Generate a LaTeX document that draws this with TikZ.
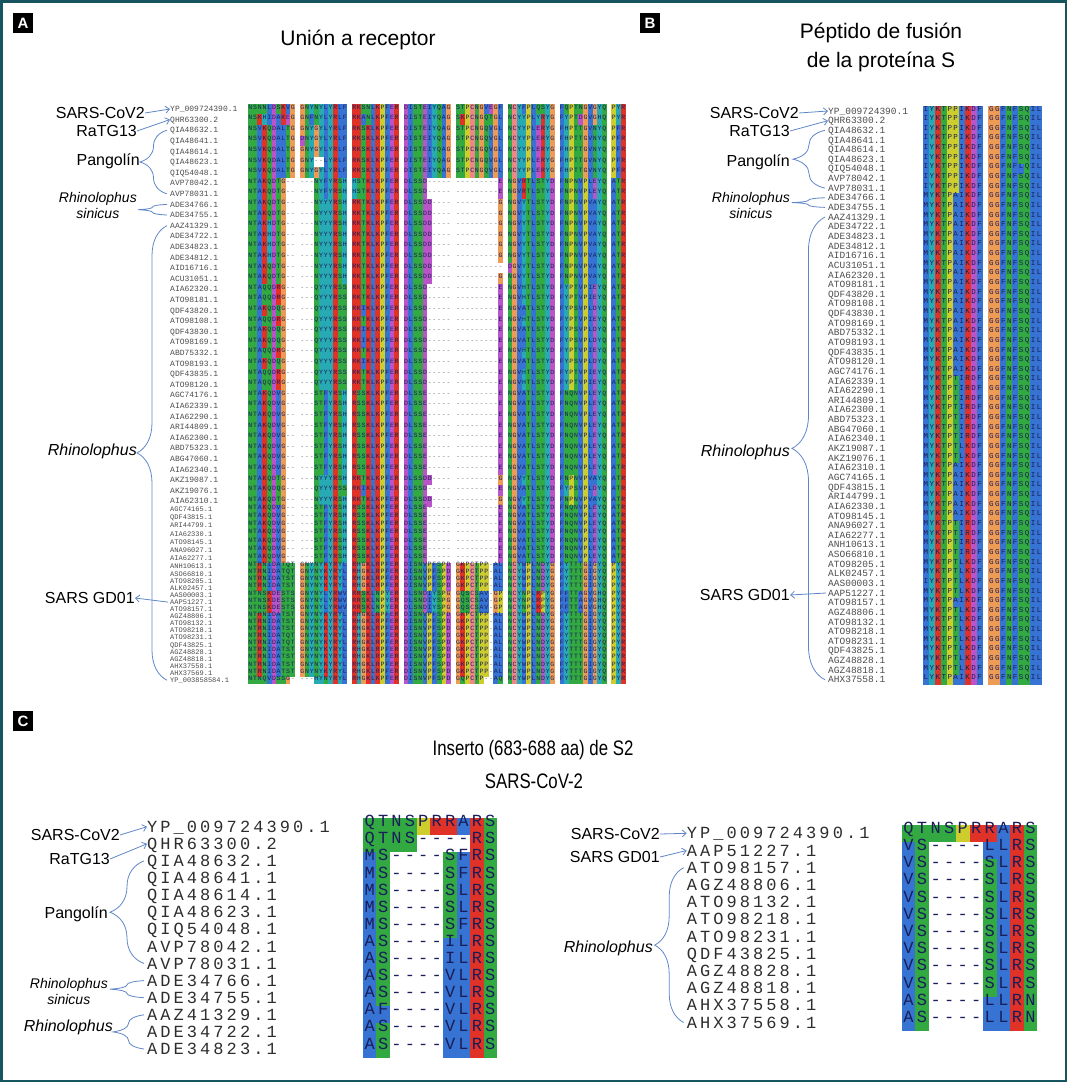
\documentclass[tikz,border=0pt]{standalone}
\usepackage{fontspec}
\usepackage{graphicx}
\usepackage{xcolor}
\usetikzlibrary{arrows.meta,decorations.pathreplacing}
\setmainfont{Liberation Sans}
\newfontfamily\monofam{Liberation Mono}
\newfontfamily\monowide[LetterSpace=18]{Liberation Mono}

\definecolor{frameTeal}{RGB}{22,84,96}
\definecolor{linkBlue}{RGB}{95,135,200}
\definecolor{aaBlue}{RGB}{55,115,210}
\definecolor{aaRed}{RGB}{225,50,40}
\definecolor{aaGreen}{RGB}{50,170,65}
\definecolor{aaMagenta}{RGB}{185,85,200}
\definecolor{aaOrange}{RGB}{238,155,85}
\definecolor{aaYellow}{RGB}{205,205,45}
\definecolor{aaCyan}{RGB}{40,170,180}
\definecolor{aaPink}{RGB}{240,135,135}
\definecolor{resText}{RGB}{25,30,90}
\definecolor{accGray}{RGB}{75,75,75}
\definecolor{accDark}{RGB}{45,45,45}
\definecolor{gapGray}{RGB}{120,120,120}

\tikzset{
  acc/.style={anchor=west, inner sep=0, text=accGray},
  accC/.style={anchor=west, inner sep=0, text=accDark, font=\monowide\fontsize{17}{18}\selectfont},
  seq/.style={anchor=base west, inner sep=0, outer sep=0},
  tag/.style={anchor=east, inner sep=0, font=\fontsize{16}{18}\selectfont},
  tagit/.style={anchor=east, inner sep=0, align=center, font=\itshape\fontsize{14}{16}\selectfont},
  tagrh/.style={anchor=east, inner sep=0, font=\itshape\fontsize{16}{18}\selectfont},
  ttl/.style={align=center, inner sep=0, font=\fontsize{21}{29}\selectfont},
  plbl/.style={fill=black, text=white, inner sep=0, minimum width=20, minimum height=20, font=\bfseries\fontsize{15}{15}\selectfont},
  lnk/.style={draw=linkBlue, line width=0.8, -{Straight Barb[length=4pt,width=7pt]}},
  brc/.style={draw=linkBlue, line width=0.8, decorate, decoration={brace, amplitude=#1}}
}

% residue cells, set as plain boxes inside one node per row; '.' = block gap
\newdimen\cellw \newdimen\cellh \newdimen\cellhh \newdimen\capoff
\def\gapcol{gapGray}
\def\setaa#1#2{\expandafter\def\csname aac#1\endcsname{#2}}
\setaa A{aaBlue}\setaa I{aaBlue}\setaa L{aaBlue}\setaa M{aaBlue}\setaa F{aaBlue}\setaa W{aaBlue}\setaa V{aaBlue}
\setaa K{aaRed}\setaa R{aaRed}
\setaa D{aaMagenta}\setaa E{aaMagenta}
\setaa N{aaGreen}\setaa Q{aaGreen}\setaa S{aaGreen}\setaa T{aaGreen}
\setaa G{aaOrange}\setaa P{aaYellow}\setaa H{aaCyan}\setaa Y{aaCyan}\setaa C{aaPink}
\def\seqcell#1{%
  \if#1.\kern\cellw\else
    \ifcsname aac#1\endcsname
      \rlap{\color{\csname aac#1\endcsname}\rule[-\cellhh]{\cellw}{\cellh}}%
    \fi
    \hbox to\cellw{\hss\lower\capoff\hbox{\if#1-\color{\gapcol}\else\color{resText}\fi#1}\hss}%
  \fi}
\def\seqrun#1{\ifx\relax#1\else\seqcell#1\expandafter\seqrun\fi}
\newcommand\setcells[2]{\cellw=#1pt\relax\cellh=#2pt\relax\cellhh=0.5\cellh
  \setbox0\hbox{\resfont X}\capoff=0.5\ht0\relax}
\newcommand\acctext[1]{\vphantom{X}\smash{#1}}

\newcommand\rowA[3]{%
  \pgfmathsetmacro\alny{#1<38.5 ? 109+(#1-1)*10.6 : (#1<46.5 ? 501+(#1-38)*8.2 : 566.6+(#1-46)*7.1)}%
  \pgfmathsetmacro\alnh{#1<38.5 ? 10.6 : (#1<46.5 ? 8.2 : 7.1)}%
  \ifnum#1<39 \def\accfont{\monofam\fontsize{8}{9}\selectfont}\else\def\accfont{\monofam\fontsize{7}{8}\selectfont}\fi
  \node[acc,font=\accfont] (a#1) at (170,\alny) {\acctext{#2}};
  \def\resfont{\monofam\fontsize{6.5}{7}\selectfont}\setcells{4.72}{\alnh}%
  \node[seq,font=\resfont] (sa#1) at (248,\alny) {\expandafter\seqrun#3\relax};}
\newcommand\rowB[3]{%
  \pgfmathsetmacro\alny{111+(#1-1)*9.64}%
  \node[acc,font=\monofam\fontsize{9.5}{10}\selectfont] (b#1) at (828,\alny) {\acctext{#2}};
  \def\resfont{\monofam\fontsize{7.5}{8}\selectfont}\setcells{5.95}{9.64}%
  \node[seq,font=\resfont] (sb#1) at (923,\alny) {\expandafter\seqrun#3\relax};}
\newcommand\rowCL[3]{%
  \pgfmathsetmacro\alny{826.7+(#1-1)*17.1}%
  \node[accC] (c#1) at (147,\alny) {\acctext{#2}};
  \def\resfont{\monofam\fontsize{17}{18}\selectfont}\setcells{13.4}{17.1}%
  \node[seq,font=\resfont] (sc#1) at (363,\alny) {\expandafter\seqrun#3\relax};}
\newcommand\rowCR[3]{%
  \pgfmathsetmacro\alny{833.3+(#1-1)*17.2}%
  \node[accC] (d#1) at (686.7,\alny) {\acctext{#2}};
  \def\resfont{\monofam\fontsize{17}{18}\selectfont}\setcells{13.56}{17.2}%
  \node[seq,font=\resfont] (sd#1) at (901.7,\alny) {\expandafter\seqrun#3\relax};}

% receptor binding region
\def\sqCoV{NSNNLDSKVG.GNYNYLYRLF.RKSNLKPFER.DISTEIYQAG.STPCNGVEGF.NCYFPLQSYG.FQPTNGVGYQ.PYR}
\def\sqRaT{NSKHIDAKEG.GNFNYLYRLF.RKANLKPFER.DISTEIYQAG.SKPCNGQTGL.NCYYPLYRYG.FYPTDGVGHQ.PYR}
\def\sqPan{NSVKQDALTG.GNYGYLYRLF.RKSKLKPFER.DISTEIYQAG.STPCNGQVGL.NCYYPLERYG.FHPTTGVNYQ.PFR}
\def\sqPanb{NSVKQDALTG.DNYGYLYRLF.RKSKLKPFER.DISTEIYQAG.STPCNGQVGL.NCYYPLERYG.FHPTTGVNYQ.PFR}
\def\sqPanc{NSVKQDALTG.GNY--LYRLF.RKSKLKPFER.DISTEIYQAG.STPCNGQVGL.NCYYPLERYG.FHPTTGVNYQ.PFR}
\def\sqZC{NTAKQDTG--.---NYFYRSH.HSTKLKPFER.DLSSD-----.---------E.NGVRTLSTYD.FNPNVPLEYQ.ATR}
\def\sqRs{NTAKQDTG--.---NYYYRSH.RKTKLKPFER.DLSSDD----.---------G.NGVYTLSTYD.FNPNVPVAYQ.ATR}
\def\sqRsb{NTAKHDTG--.---NYYYRSH.RKTKLKPFER.DLSSDD----.---------G.NGVYTLSTYD.FNPNVPVAYQ.ATR}
\def\sqRsc{NTAKQDTG--.---NYYYRSH.RKTKLKPFER.DLSSDD----.----------.DGVYTLSTYD.FNPNVPVAYQ.ATR}
\def\sqQ{NTAQQDRG--.---QYYYRSS.RKTKLKPFER.DLSSD-----.---------E.NGVHTLSTYD.FYPTVPIEYQ.ATR}
\def\sqQb{NTAKQDQG--.---QYYYRSS.RKIKLKPFER.DLSSD-----.---------E.NGVATLSTYD.FYPSVPLDYQ.ATR}
\def\sqS{NTAKQDVG--.---STFYRSH.RSSKLKPFER.DLSSE-----.---------E.NGVATLSTYD.FNQNVPLEYQ.ATR}
\def\sqSARS{NTRNIDATST.GNYNYKYRYL.RHGKLRPFER.DISNVPFSPD.GKPCTPP-AL.NCYWPLNDYG.FYTTTGIGYQ.PYR}
\def\sqSARSb{NTRNIDATQT.GNYNYKYRYL.RHGKLRPFER.DISNVPFSPD.GKPCTPP-AL.NCYWPLNDYG.FYTTTGIGYQ.PYR}
\def\sqWIV{NTNSKDESTS.GNYNYLYRWV.RRSKLNPYER.DLSNDIYSPG.GQSCSAV-GP.NCYNPLRPYG.FFTTAGVGHQ.PYR}
\def\sqBM{NTNQVDSSG-.---HYNYRYL.RHGKLKPFER.DISNVPFSPD.GQPCTP--AQ.NCYWPLNDYG.FYTTTGIGYQ.PYR}
% fusion peptide
\def\sqBa{IYKTPPIKDF.GGFNFSQIL}
\def\sqBb{IYKTPPIKDF.GGFNFLQIL}
\def\sqBc{MYKTPAIKDF.GGFNFSQIL}
\def\sqBd{MYKTPTIRDF.GGFNFSQIL}
\def\sqBe{MYKTPTLKDF.GGFNFSQIL}
\def\sqBf{IYKTPTLKDF.GGFNFSQIL}
\def\sqBg{LYKTPAIKDF.GGFNFSQIL}

\begin{document}
\begin{tikzpicture}[x=1pt,y=-1pt]
\useasboundingbox (0,0) rectangle (1067,1082);
\draw[frameTeal, line width=2.5] (1.25,1.25) rectangle (1065.75,1080.75);

% panel A
\node[plbl] (pA) at (23,23) {A};
\node[ttl] (tA) at (358,40) {Unión a receptor};
\rowA{1}{YP\_009724390.1}{\sqCoV}
\rowA{2}{QHR63300.2}{\sqRaT}
\rowA{3}{QIA48632.1}{\sqPan}
\rowA{4}{QIA48641.1}{\sqPanb}
\rowA{5}{QIA48614.1}{\sqPan}
\rowA{6}{QIA48623.1}{\sqPanc}
\rowA{7}{QIQ54048.1}{\sqPan}
\rowA{8}{AVP78042.1}{\sqZC}
\rowA{9}{AVP78031.1}{\sqZC}
\rowA{10}{ADE34766.1}{\sqRs}
\rowA{11}{ADE34755.1}{\sqRs}
\rowA{12}{AAZ41329.1}{\sqRsb}
\rowA{13}{ADE34722.1}{\sqRsb}
\rowA{14}{ADE34823.1}{\sqRsb}
\rowA{15}{ADE34812.1}{\sqRsb}
\rowA{16}{AID16716.1}{\sqRsc}
\rowA{17}{ACU31051.1}{\sqRs}
\rowA{18}{AIA62320.1}{\sqQ}
\rowA{19}{ATO98181.1}{\sqQ}
\rowA{20}{QDF43820.1}{\sqQb}
\rowA{21}{ATO98108.1}{\sqQ}
\rowA{22}{QDF43830.1}{\sqQb}
\rowA{23}{ATO98169.1}{\sqQb}
\rowA{24}{ABD75332.1}{\sqQ}
\rowA{25}{ATO98193.1}{\sqQb}
\rowA{26}{QDF43835.1}{\sqQ}
\rowA{27}{ATO98120.1}{\sqQ}
\rowA{28}{AGC74176.1}{\sqS}
\rowA{29}{AIA62339.1}{\sqS}
\rowA{30}{AIA62290.1}{\sqS}
\rowA{31}{ARI44809.1}{\sqS}
\rowA{32}{AIA62300.1}{\sqS}
\rowA{33}{ABD75323.1}{\sqS}
\rowA{34}{ABG47060.1}{\sqS}
\rowA{35}{AIA62340.1}{\sqS}
\rowA{36}{AKZ19087.1}{\sqRs}
\rowA{37}{AKZ19076.1}{\sqQb}
\rowA{38}{AIA62310.1}{\sqRs}
\rowA{39}{AGC74165.1}{\sqS}
\rowA{40}{QDF43815.1}{\sqS}
\rowA{41}{ARI44799.1}{\sqS}
\rowA{42}{AIA62330.1}{\sqS}
\rowA{43}{ATO98145.1}{\sqS}
\rowA{44}{ANA96027.1}{\sqS}
\rowA{45}{AIA62277.1}{\sqS}
\rowA{46}{ANH10613.1}{\sqSARSb}
\rowA{47}{ASO66810.1}{\sqSARSb}
\rowA{48}{ATO98205.1}{\sqSARS}
\rowA{49}{ALK02457.1}{\sqSARS}
\rowA{50}{AAS00003.1}{\sqWIV}
\rowA{51}{AAP51227.1}{\sqWIV}
\rowA{52}{ATO98157.1}{\sqWIV}
\rowA{53}{AGZ48806.1}{\sqSARS}
\rowA{54}{ATO98132.1}{\sqSARS}
\rowA{55}{ATO98218.1}{\sqSARS}
\rowA{56}{ATO98231.1}{\sqSARSb}
\rowA{57}{QDF43825.1}{\sqSARSb}
\rowA{58}{AGZ48828.1}{\sqSARS}
\rowA{59}{AGZ48818.1}{\sqSARS}
\rowA{60}{AHX37558.1}{\sqSARS}
\rowA{61}{AHX37569.1}{\sqSARS}
\rowA{62}{YP\_003858584.1}{\sqBM}
\node[tag] (aCoV) at (145,113) {SARS-CoV2};
\node[tag] (aRa) at (137,131) {RaTG13};
\node[tag] (aPan) at (140,161) {Pangolín};
\node[tagit] (aRs) at (137,205) {Rhinolophus\\sinicus};
\node[tagrh] (aRh) at (137,451) {Rhinolophus};
\node[tag] (aGD) at (135,598) {SARS GD01};
\draw[lnk] (aCoV.east) -- (a1.west);
\draw[lnk] (aRa.east) -- (a2.west);
\draw[lnk] ([xshift=-2]a51.west) -- (aGD.east);
\draw[brc=27] ([xshift=-3]a9.west) -- ([xshift=-3]a3.west);
\draw[brc=29] ([xshift=-3]a11.west) -- ([xshift=-3]a10.west);
\draw[brc=30] ([xshift=-3]a62.west) -- ([xshift=-3]a12.west);

% panel B
\node[plbl] (pB) at (650,23) {B};
\node[ttl] (tB) at (881,47) {Péptido de fusión\\de la proteína S};
\rowB{1}{YP\_009724390.1}{\sqBa}
\rowB{2}{QHR63300.2}{\sqBa}
\rowB{3}{QIA48632.1}{\sqBa}
\rowB{4}{QIA48641.1}{\sqBa}
\rowB{5}{QIA48614.1}{\sqBa}
\rowB{6}{QIA48623.1}{\sqBa}
\rowB{7}{QIQ54048.1}{\sqBb}
\rowB{8}{AVP78042.1}{\sqBa}
\rowB{9}{AVP78031.1}{\sqBa}
\rowB{10}{ADE34766.1}{\sqBc}
\rowB{11}{ADE34755.1}{\sqBc}
\rowB{12}{AAZ41329.1}{\sqBc}
\rowB{13}{ADE34722.1}{\sqBc}
\rowB{14}{ADE34823.1}{\sqBc}
\rowB{15}{ADE34812.1}{\sqBc}
\rowB{16}{AID16716.1}{\sqBc}
\rowB{17}{ACU31051.1}{\sqBc}
\rowB{18}{AIA62320.1}{\sqBc}
\rowB{19}{ATO98181.1}{\sqBc}
\rowB{20}{QDF43820.1}{\sqBc}
\rowB{21}{ATO98108.1}{\sqBc}
\rowB{22}{QDF43830.1}{\sqBc}
\rowB{23}{ATO98169.1}{\sqBc}
\rowB{24}{ABD75332.1}{\sqBc}
\rowB{25}{ATO98193.1}{\sqBc}
\rowB{26}{QDF43835.1}{\sqBc}
\rowB{27}{ATO98120.1}{\sqBc}
\rowB{28}{AGC74176.1}{\sqBc}
\rowB{29}{AIA62339.1}{\sqBd}
\rowB{30}{AIA62290.1}{\sqBd}
\rowB{31}{ARI44809.1}{\sqBd}
\rowB{32}{AIA62300.1}{\sqBd}
\rowB{33}{ABD75323.1}{\sqBd}
\rowB{34}{ABG47060.1}{\sqBd}
\rowB{35}{AIA62340.1}{\sqBd}
\rowB{36}{AKZ19087.1}{\sqBe}
\rowB{37}{AKZ19076.1}{\sqBe}
\rowB{38}{AIA62310.1}{\sqBc}
\rowB{39}{AGC74165.1}{\sqBc}
\rowB{40}{QDF43815.1}{\sqBc}
\rowB{41}{ARI44799.1}{\sqBc}
\rowB{42}{AIA62330.1}{\sqBc}
\rowB{43}{ATO98145.1}{\sqBc}
\rowB{44}{ANA96027.1}{\sqBd}
\rowB{45}{AIA62277.1}{\sqBd}
\rowB{46}{ANH10613.1}{\sqBd}
\rowB{47}{ASO66810.1}{\sqBd}
\rowB{48}{ATO98205.1}{\sqBe}
\rowB{49}{ALK02457.1}{\sqBe}
\rowB{50}{AAS00003.1}{\sqBf}
\rowB{51}{AAP51227.1}{\sqBe}
\rowB{52}{ATO98157.1}{\sqBc}
\rowB{53}{AGZ48806.1}{\sqBe}
\rowB{54}{ATO98132.1}{\sqBe}
\rowB{55}{ATO98218.1}{\sqBe}
\rowB{56}{ATO98231.1}{\sqBe}
\rowB{57}{QDF43825.1}{\sqBe}
\rowB{58}{AGZ48828.1}{\sqBe}
\rowB{59}{AGZ48818.1}{\sqBe}
\rowB{60}{AHX37558.1}{\sqBg}
\node[tag] (bCoV) at (799,113) {SARS-CoV2};
\node[tag] (bRa) at (790,131) {RaTG13};
\node[tag] (bPan) at (790,162) {Pangolín};
\node[tagit] (bRs) at (790,205) {Rhinolophus\\sinicus};
\node[tagrh] (bRh) at (790,452) {Rhinolophus};
\node[tag] (bGD) at (790,595) {SARS GD01};
\draw[lnk] (bCoV.east) -- (b1.west);
\draw[lnk] (bRa.east) -- (b2.west);
\draw[lnk] ([xshift=-2]b51.west) -- (bGD.east);
\draw[brc=32] ([xshift=-3]b9.west) -- ([xshift=-3]b3.west);
\draw[brc=33] ([xshift=-3]b11.west) -- ([xshift=-3]b10.west);
\draw[brc=33] ([xshift=-3]b60.west) -- ([xshift=-3]b12.west);

% panel C
\node[plbl] (pC) at (23,721) {C};
\node[ttl] (tC1) at (533,750) {\scalebox{0.8}[1]{Inserto (683-688 aa) de S2}};
\node[ttl] (tC2) at (534,781) {\scalebox{0.8}[1]{SARS-CoV-2}};
\def\gapcol{resText}
\rowCL{1}{YP\_009724390.1}{QTNSPRRARS}
\rowCL{2}{QHR63300.2}{QTNS----RS}
\rowCL{3}{QIA48632.1}{MS----SFRS}
\rowCL{4}{QIA48641.1}{MS----SFRS}
\rowCL{5}{QIA48614.1}{MS----SLRS}
\rowCL{6}{QIA48623.1}{MS----SLRS}
\rowCL{7}{QIQ54048.1}{MS----SFRS}
\rowCL{8}{AVP78042.1}{AS----ILRS}
\rowCL{9}{AVP78031.1}{AS----ILRS}
\rowCL{10}{ADE34766.1}{AS----VLRS}
\rowCL{11}{ADE34755.1}{AS----VLRS}
\rowCL{12}{AAZ41329.1}{AF----VLRS}
\rowCL{13}{ADE34722.1}{AS----VLRS}
\rowCL{14}{ADE34823.1}{AS----VLRS}
\node[tag] (cCoV) at (120,835) {SARS-CoV2};
\node[tag] (cRa) at (110,859) {RaTG13};
\node[tag] (cPan) at (108,914) {Pangolín};
\node[tagit] (cRs) at (108,991) {Rhinolophus\\sinicus};
\node[tagrh] (cRh) at (113,1027) {Rhinolophus};
\draw[lnk] (cCoV.east) -- (c1.west);
\draw[lnk] (cRa.east) -- (c2.west);
\draw[brc=34] ([xshift=-3]c9.west) -- ([xshift=-3]c3.west);
\draw[brc=34] ([xshift=-3]c11.west) -- ([xshift=-3]c10.west);
\draw[brc=31] ([xshift=-3]c14.west) -- ([xshift=-3]c12.west);

\rowCR{1}{YP\_009724390.1}{QTNSPRRARS}
\rowCR{2}{AAP51227.1}{VS----LLRS}
\rowCR{3}{ATO98157.1}{VS----SLRS}
\rowCR{4}{AGZ48806.1}{VS----SLRS}
\rowCR{5}{ATO98132.1}{VS----SLRS}
\rowCR{6}{ATO98218.1}{VS----SLRS}
\rowCR{7}{ATO98231.1}{VS----SLRS}
\rowCR{8}{QDF43825.1}{VS----SLRS}
\rowCR{9}{AGZ48828.1}{VS----SLRS}
\rowCR{10}{AGZ48818.1}{VS----SLRS}
\rowCR{11}{AHX37558.1}{AS----LLRN}
\rowCR{12}{AHX37569.1}{AS----LLRN}
\node[tag] (dCoV) at (660,834) {SARS-CoV2};
\node[tag] (dGD) at (660,857) {SARS GD01};
\node[tagrh] (dRh) at (653,948) {Rhinolophus};
\draw[lnk] (dCoV.east) -- (d1.west);
\draw[lnk] (dGD.east) -- (d2.west);
\draw[brc=29] ([xshift=-3]d12.west) -- ([xshift=-3]d3.west);
\end{tikzpicture}
\end{document}
